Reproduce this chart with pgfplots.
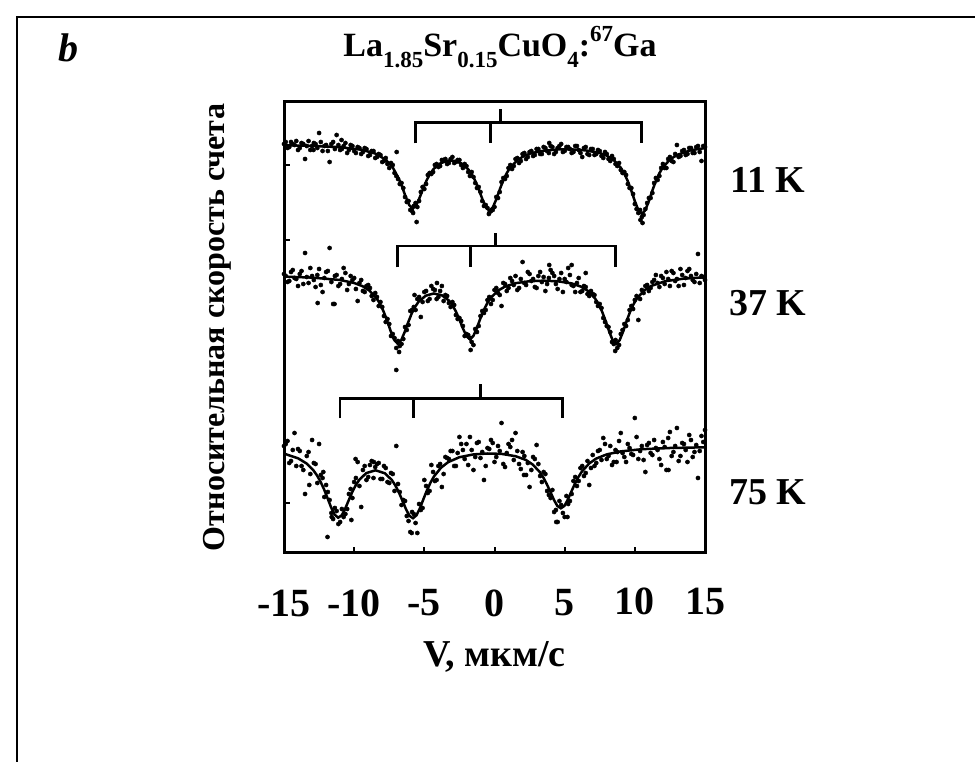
\documentclass[border=0pt]{standalone}
\usepackage{fontspec}
\setmainfont{Liberation Serif}
\usepackage{pgfplots}
\pgfplotsset{compat=1.18}
\begin{document}
\begin{tikzpicture}[x=1pt,y=1pt]
\path[use as bounding box] (0,0) rectangle (975,762);
\draw[line width=2pt] (17,0) -- (17,745) -- (975,745);
\begin{axis}[
  at={(284pt,209pt)}, anchor=south west,
  width=421pt, height=451pt, scale only axis,
  xmin=-15, xmax=15, ymin=209, ymax=660,
  axis line style={line width=3pt},
  xtick={-15,-10,-5,0,5,10,15},
  xticklabels={-15,-10,-5,0,5,\raisebox{3pt}{10},\raisebox{3pt}{15}},
  ytick={259,522,597}, yticklabels={},
  xtick pos=left, ytick pos=left,
  tick align=inside, major tick length=6pt,
  tick style={line width=2pt, black},
  xticklabel style={font=\bfseries\fontsize{40}{40}\selectfont, anchor=center, yshift=-50pt},
  xlabel={V, мкм/с},
  xlabel style={font=\bfseries\fontsize{38}{38}\selectfont, at={(axis description cs:0.5,0)}, anchor=center, yshift=-104pt},
  ylabel={Относительная скорость счета},
  ylabel style={font=\bfseries\fontsize{32}{32}\selectfont, at={(axis description cs:-0.159,0.5)}, anchor=center},
]
% ---------- 11 K ----------
\addplot[only marks, mark=*, mark size=2.1pt, black] coordinates {
(-15.00,618) (-14.75,614) (-14.50,620) (-14.25,617) (-14.00,612) (-13.75,619) (-13.50,603) (-13.25,621)
(-13.00,616) (-12.75,618) (-12.50,629) (-12.25,611) (-12.00,617) (-11.75,600) (-11.50,620) (-11.25,627)
(-11.00,612) (-10.75,616) (-10.50,609) (-10.25,617) (-10.00,611) (-9.75,615) (-9.50,608) (-9.25,614)
(-9.00,606) (-8.75,611) (-8.50,604) (-8.25,608) (-8.00,600) (-7.75,604) (-7.50,594) (-7.25,597)
(-7.00,586) (-6.97,610) (-6.75,578) (-6.50,574) (-6.25,560) (-6.00,552) (-5.75,556) (-5.50,555)
(-5.25,570) (-5.00,573) (-4.75,587) (-4.50,588) (-4.25,597) (-4.00,595) (-3.75,602) (-3.50,603)
(-3.25,599) (-3.00,605) (-2.75,600) (-2.50,602) (-2.25,594) (-2.00,596) (-1.75,586) (-1.50,585)
(-1.25,574) (-1.00,570) (-0.75,556) (-0.50,554) (-0.25,551) (0.00,555) (0.25,564) (0.50,580)
(0.75,583) (1.00,594) (1.25,593) (1.50,603) (1.75,599) (2.00,608) (2.25,603) (2.50,610)
(2.75,606) (3.00,613) (3.25,608) (3.50,615) (3.75,611) (4.00,616) (4.25,608) (4.50,614)
(4.75,618) (5.00,611) (5.25,615) (5.50,609) (5.75,616) (6.00,612) (6.25,605) (6.50,615)
(6.75,607) (7.00,613) (7.25,608) (7.50,611) (7.75,604) (8.00,608) (8.25,601) (8.50,603)
(8.75,596) (9.00,592) (9.25,590) (9.50,578) (9.75,574) (10.00,558) (10.25,549) (10.50,545)
(10.75,553) (11.00,564) (11.25,569) (11.50,584) (11.75,586) (12.00,598) (12.25,594) (12.50,605)
(12.75,600) (13.00,617) (13.25,606) (13.50,612) (13.75,608) (14.00,614) (14.25,609) (14.50,616)
(14.75,601) (15.00,615) (-5.55,540) (10.55,539) (-12.90,612) (-10.90,622) (3.90,619) (-0.40,548)
(-5.80,549) (10.40,542)
(-14.875,620) (-14.625,615) (-14.375,618) (-14.125,621) (-13.875,614) (-13.625,618) (-13.375,616) (-13.125,612)
(-12.875,619) (-12.625,614) (-12.375,620) (-12.125,616) (-11.875,611) (-11.625,618) (-11.375,613) (-11.125,617)
(-10.875,613) (-10.625,619) (-10.375,612) (-10.125,616) (-9.875,609) (-9.625,614) (-9.375,610) (-9.125,613)
(-8.875,607) (-8.625,611) (-8.375,605) (-8.125,607) (-7.875,601) (-7.625,598) (-7.375,599) (-7.125,589)
(-6.875,583) (-6.625,579) (-6.375,565) (-6.125,561) (-5.875,551) (-5.625,559) (-5.375,561) (-5.125,575)
(-4.875,578) (-4.625,589) (-4.375,590) (-4.125,598) (-3.875,596) (-3.625,602) (-3.375,598) (-3.125,603)
(-2.875,599) (-2.625,602) (-2.375,597) (-2.125,598) (-1.875,590) (-1.625,590) (-1.375,579) (-1.125,575)
(-0.875,561) (-0.625,557) (-0.375,549) (-0.125,552) (0.125,565) (0.375,570) (0.625,584) (0.875,586)
(1.125,597) (1.375,596) (1.625,604) (1.875,601) (2.125,609) (2.375,605) (2.625,611) (2.875,607)
(3.125,613) (3.375,608) (3.625,614) (3.875,609) (4.125,615) (4.375,610) (4.625,616) (4.875,610)
(5.125,615) (5.375,613) (5.625,610) (5.875,616) (6.125,609) (6.375,614) (6.625,608) (6.875,613)
(7.125,607) (7.375,612) (7.625,606) (7.875,610) (8.125,603) (8.375,606) (8.625,598) (8.875,599)
(9.125,589) (9.375,587) (9.625,574) (9.875,568) (10.125,553) (10.375,552) (10.625,547) (10.875,559)
(11.125,564) (11.375,579) (11.625,582) (11.875,594) (12.125,594) (12.375,603) (12.625,601) (12.875,608)
(13.125,605) (13.375,611) (13.625,607) (13.875,614) (14.125,609) (14.375,615) (14.625,610) (14.875,616)
};
\addplot[black, line width=2.5pt] coordinates {
(-15,616.8) (-13,616.1) (-11,614.8) (-9.5,612.3) (-8.5,608.5) (-7.75,602.3) (-7.25,594.5) (-6.83,583.6)
(-6.58,575.0) (-6.33,565.3) (-6.08,557.0) (-5.83,553.4) (-5.58,556.5) (-5.33,564.5) (-5.08,573.7) (-4.83,581.9)
(-4.58,588.4) (-4.33,593.2) (-3.83,598.9) (-3.33,601.2) (-3.1,601.5) (-2.86,601.1) (-2.36,598.6) (-1.86,592.5)
(-1.61,587.5) (-1.36,580.8) (-1.11,572.2) (-0.86,562.7) (-0.61,554.6) (-0.36,551.2) (-0.11,554.8) (0.14,563.2)
(0.39,573.1) (0.64,582.1) (0.89,589.3) (1.14,594.8) (1.64,602.0) (2.14,606.3) (2.64,608.9) (3.5,611.3)
(4.5,612.5) (5.5,612.6) (6.5,611.6) (7.5,609.0) (8.0,606.3) (8.5,601.9) (9.0,594.3) (9.25,588.4)
(9.5,580.8) (9.75,571.3) (10.0,560.9) (10.25,551.8) (10.5,548.1) (10.75,551.9) (11.0,561.0) (11.25,571.5)
(11.5,581.0) (11.75,588.8) (12.0,594.7) (12.5,602.4) (13.0,607.0) (14.0,611.8) (15.0,613.9)
};
\addplot[black, line width=2.7pt] coordinates {(-5.64,618.7) (-5.64,639.7) (10.49,639.7) (10.49,618.7)};
\addplot[black, line width=2.7pt] coordinates {(-0.31,639.7) (-0.31,618.7)};
\addplot[black, line width=2.7pt] coordinates {(0.42,639.7) (0.42,653)};
% ---------- 37 K ----------
\addplot[only marks, mark=*, mark size=2.1pt, black] coordinates {
(-15.00,488) (-14.75,480) (-14.50,490) (-14.25,484) (-14.00,476) (-13.75,491) (-13.50,509) (-13.25,479)
(-13.00,486) (-12.75,475) (-12.50,493) (-12.25,470) (-12.00,490) (-11.75,514) (-11.50,458) (-11.25,487)
(-11.00,478) (-10.75,494) (-10.50,472) (-10.25,486) (-10.00,484) (-9.75,461) (-9.50,482) (-9.25,470)
(-9.00,477) (-8.75,466) (-8.50,469) (-8.25,456) (-8.00,455) (-7.75,440) (-7.50,438) (-7.25,428)
(-7.00,414) (-6.75,416) (-6.50,423) (-6.25,432) (-6.00,451) (-5.75,455) (-5.50,463) (-5.25,445)
(-5.00,470) (-4.75,461) (-4.50,476) (-4.25,472) (-4.00,465) (-3.75,476) (-3.50,467) (-3.25,459)
(-3.00,460) (-2.75,447) (-2.50,444) (-2.25,436) (-2.00,428) (-1.75,424) (-1.50,417) (-1.25,430)
(-1.00,446) (-0.75,449) (-0.50,462) (-0.25,458) (0.00,472) (0.25,469) (0.50,456) (0.75,478)
(1.00,474) (1.25,481) (1.50,486) (1.75,474) (2.00,500) (2.25,477) (2.50,488) (2.75,483)
(3.00,474) (3.25,490) (3.50,485) (3.75,478) (4.00,492) (4.25,486) (4.50,473) (4.75,489)
(5.00,483) (5.25,494) (5.50,477) (5.75,470) (6.00,484) (6.25,471) (6.50,475) (6.75,466)
(7.00,468) (7.25,460) (7.50,458) (7.75,444) (8.00,436) (8.25,430) (8.50,418) (8.75,414)
(9.00,428) (9.25,438) (9.50,442) (9.75,456) (10.00,462) (10.25,442) (10.50,472) (10.75,476)
(11.00,471) (11.25,480) (11.50,487) (11.75,475) (12.00,484) (12.25,490) (12.50,476) (12.75,489)
(13.00,483) (13.25,493) (13.50,477) (13.75,491) (14.00,486) (14.25,480) (14.50,508) (14.75,486)
(15.00,482) (-7.00,392) (-1.70,412) (-6.80,410) (8.60,411) (-4.10,479) (-5.70,467) (3.90,497)
(5.50,497) (6.50,489) (-12.60,459) (-11.40,458)
(-14.875,486) (-14.625,481) (-14.375,492) (-14.125,483) (-13.875,488) (-13.625,478) (-13.375,485) (-13.125,494)
(-12.875,482) (-12.625,487) (-12.375,477) (-12.125,484) (-11.875,491) (-11.625,480) (-11.375,486) (-11.125,476)
(-10.875,483) (-10.625,489) (-10.375,478) (-10.125,482) (-9.875,473) (-9.625,479) (-9.375,471) (-9.125,476)
(-8.875,474) (-8.625,462) (-8.375,465) (-8.125,460) (-7.875,446) (-7.625,443) (-7.375,426) (-7.125,424)
(-6.875,421) (-6.625,418) (-6.375,435) (-6.125,437) (-5.875,452) (-5.625,452) (-5.375,465) (-5.125,460)
(-4.875,471) (-4.625,463) (-4.375,473) (-4.125,463) (-3.875,471) (-3.625,461) (-3.375,466) (-3.125,455)
(-2.875,457) (-2.625,443) (-2.375,441) (-2.125,426) (-1.875,427) (-1.625,420) (-1.375,433) (-1.125,436)
(-0.875,451) (-0.625,452) (-0.375,465) (-0.125,462) (0.125,474) (0.375,467) (0.625,479) (0.875,471)
(1.125,484) (1.375,477) (1.625,472) (1.875,483) (2.125,479) (2.375,490) (2.625,481) (2.875,475)
(3.125,486) (3.375,480) (3.625,471) (3.875,484) (4.125,489) (4.375,478) (4.625,483) (4.875,470)
(5.125,480) (5.375,487) (5.625,476) (5.875,479) (6.125,470) (6.375,476) (6.625,468) (6.875,471)
(7.125,467) (7.375,456) (7.625,454) (7.875,440) (8.125,435) (8.375,420) (8.625,422) (8.875,417)
(9.125,432) (9.375,436) (9.625,452) (9.875,453) (10.125,466) (10.375,463) (10.625,469) (10.875,477)
(11.125,474) (11.375,482) (11.625,479) (11.875,486) (12.125,478) (12.375,483) (12.625,491) (12.875,481)
(13.125,476) (13.375,487) (13.625,484) (13.875,493) (14.125,482) (14.375,488) (14.625,479) (14.875,485)
};
\addplot[black, line width=2.5pt] coordinates {
(-15,485.4) (-13,484.4) (-11,482.0) (-10,479.0) (-9.4,475.8) (-8.9,471.2) (-8.4,463.7) (-8.15,457.9)
(-7.9,450.4) (-7.65,441.2) (-7.4,430.9) (-7.15,422.1) (-6.9,418.3) (-6.65,421.7) (-6.4,430.0) (-6.15,439.7)
(-5.9,448.5) (-5.65,455.3) (-5.4,460.5) (-4.9,466.3) (-4.33,468.5) (-3.75,466.7) (-3.25,461.5) (-3.0,456.8)
(-2.75,450.5) (-2.5,442.5) (-2.25,433.6) (-2.0,425.9) (-1.75,422.7) (-1.5,426.2) (-1.25,434.3) (-1.0,443.8)
(-0.75,452.3) (-0.5,459.2) (-0.25,464.5) (0.25,471.4) (0.75,475.4) (1.5,478.8) (2.5,480.8) (3.5,481.3)
(4.5,480.7) (5.5,478.6) (6.17,475.3) (6.67,471.0) (7.17,463.5) (7.42,457.7) (7.67,450.3) (7.92,440.9)
(8.17,430.6) (8.42,421.7) (8.67,418.0) (8.92,421.8) (9.17,430.7) (9.42,441.1) (9.67,450.6) (9.92,458.1)
(10.17,463.9) (10.67,471.6) (11.17,476.1) (12.17,480.8) (13.5,483.4) (15,484.7)
};
\addplot[black, line width=2.7pt] coordinates {(-6.92,494.7) (-6.92,516) (8.64,516) (8.64,494.7)};
\addplot[black, line width=2.7pt] coordinates {(-1.71,516) (-1.71,494.7)};
\addplot[black, line width=2.7pt] coordinates {(0.07,516) (0.07,528.7)};
% ---------- 75 K ----------
\addplot[only marks, mark=*, mark size=2.1pt, black] coordinates {
(-15.00,316) (-14.75,321) (-14.50,301) (-14.25,329) (-14.00,313) (-13.75,296) (-13.50,268) (-13.25,310)
(-13.00,322) (-12.75,298) (-12.50,318) (-12.25,284) (-12.00,277) (-11.75,262) (-11.50,243) (-11.25,251)
(-11.00,240) (-10.75,245) (-10.50,253) (-10.25,273) (-10.00,280) (-9.75,300) (-9.50,255) (-9.25,296)
(-9.00,285) (-8.75,301) (-8.50,295) (-8.25,299) (-8.00,283) (-7.75,294) (-7.50,279) (-7.25,288)
(-7.00,316) (-6.75,270) (-6.50,262) (-6.25,246) (-6.00,230) (-5.75,248) (-5.50,229) (-5.25,252)
(-5.00,282) (-4.75,269) (-4.50,297) (-4.25,281) (-4.00,296) (-3.75,275) (-3.50,305) (-3.25,303)
(-3.00,311) (-2.75,296) (-2.50,325) (-2.25,312) (-2.00,318) (-1.75,325) (-1.50,292) (-1.25,319)
(-1.00,304) (-0.75,282) (-0.50,314) (-0.25,322) (0.00,300) (0.25,316) (0.50,339) (0.75,295)
(1.00,318) (1.25,322) (1.50,329) (1.75,298) (2.00,310) (2.25,287) (2.50,275) (2.75,305)
(3.00,317) (3.25,286) (3.50,290) (3.75,271) (4.00,264) (4.25,250) (4.50,240) (4.75,257)
(5.00,245) (5.25,258) (5.50,268) (5.75,285) (6.00,281) (6.25,296) (6.50,289) (6.75,277)
(7.00,307) (7.25,299) (7.50,312) (7.75,324) (8.00,303) (8.25,316) (8.50,300) (8.75,310)
(9.00,329) (9.25,305) (9.50,318) (9.75,308) (10.00,344) (10.25,303) (10.50,316) (10.75,290)
(11.00,319) (11.25,307) (11.50,314) (11.75,303) (12.00,320) (12.25,292) (12.50,330) (12.75,310)
(13.00,334) (13.25,306) (13.50,318) (13.75,300) (14.00,322) (14.25,310) (14.50,284) (14.75,326)
(15.00,332) (-11.90,225) (-11.60,245) (-10.20,242) (-5.90,229) (4.40,240) (5.20,245) (-13.20,277)
(-12.20,290) (8.70,300) (-9.90,303) (-8.60,300) (2.10,287) (12.40,292)
(-14.875,318) (-14.625,299) (-14.375,312) (-14.125,296) (-13.875,311) (-13.625,292) (-13.375,306) (-13.125,288)
(-12.875,299) (-12.625,279) (-12.375,287) (-12.125,265) (-11.875,270) (-11.625,249) (-11.375,254) (-11.125,238)
(-10.875,253) (-10.625,248) (-10.375,268) (-10.125,264) (-9.875,284) (-9.625,276) (-9.375,292) (-9.125,282)
(-8.875,297) (-8.625,284) (-8.375,298) (-8.125,283) (-7.875,296) (-7.625,280) (-7.375,289) (-7.125,271)
(-6.875,278) (-6.625,257) (-6.375,261) (-6.125,241) (-5.875,250) (-5.625,239) (-5.375,258) (-5.125,254)
(-4.875,276) (-4.625,271) (-4.375,290) (-4.125,282) (-3.875,298) (-3.625,288) (-3.375,304) (-3.125,311)
(-2.875,296) (-2.625,309) (-2.375,318) (-2.125,303) (-1.875,297) (-1.625,312) (-1.375,305) (-1.125,320)
(-0.875,310) (-0.625,296) (-0.375,313) (-0.125,319) (0.125,305) (0.375,311) (0.625,298) (0.875,309)
(1.125,315) (1.375,302) (1.625,311) (1.875,293) (2.125,306) (2.375,299) (2.625,292) (2.875,303)
(3.125,298) (3.375,280) (3.625,288) (3.875,267) (4.125,272) (4.375,252) (4.625,261) (4.875,249)
(5.125,266) (5.375,261) (5.625,281) (5.875,276) (6.125,294) (6.375,286) (6.625,301) (6.875,294)
(7.125,296) (7.375,311) (7.625,302) (7.875,318) (8.125,306) (8.375,297) (8.625,312) (8.875,321)
(9.125,309) (9.375,300) (9.625,314) (9.875,307) (10.125,325) (10.375,311) (10.625,302) (10.875,317)
(11.125,309) (11.375,322) (11.625,312) (11.875,297) (12.125,315) (12.375,324) (12.625,306) (12.875,316)
(13.125,301) (13.375,319) (13.625,312) (13.875,327) (14.125,305) (14.375,317) (14.625,311) (14.875,320)
};
\addplot[black, line width=2.5pt] coordinates {
(-15,308.4) (-14,303.7) (-13.4,298.6) (-12.9,291.6) (-12.64,286.4) (-12.39,280.1) (-12.14,272.5) (-11.89,263.6)
(-11.64,254.5) (-11.39,247.3) (-11.14,244.3) (-10.89,246.6) (-10.64,253.3) (-10.39,261.7) (-10.14,269.8) (-9.89,276.7)
(-9.64,282.1) (-9.14,288.9) (-8.48,291.7) (-7.81,288.7) (-7.31,281.9) (-7.06,276.4) (-6.81,269.5) (-6.56,261.4)
(-6.31,252.9) (-6.06,246.2) (-5.81,243.8) (-5.56,246.7) (-5.31,253.9) (-5.06,263.0) (-4.81,271.8) (-4.56,279.4)
(-4.31,285.6) (-3.81,294.3) (-3.31,299.8) (-2.5,304.8) (-1.5,307.6) (-0.5,308.5) (0.5,308.1) (1.5,305.8)
(2.23,302.1) (2.73,297.4) (3.23,289.9) (3.48,284.5) (3.73,277.8) (3.98,270.2) (4.23,262.3) (4.48,256.0)
(4.73,253.7) (4.98,256.1) (5.23,262.5) (5.48,270.5) (5.73,278.3) (5.98,285.0) (6.23,290.5) (6.73,298.3)
(7.23,303.3) (8.0,307.6) (9.0,310.6) (10.5,312.8) (12.5,314.0) (15,314.7)
};
\addplot[black, line width=2.7pt] coordinates {(-11.02,343.7) (-11.02,363.7) (4.85,363.7) (4.85,343.7)};
\addplot[black, line width=2.7pt] coordinates {(-5.76,363.7) (-5.76,343.7)};
\addplot[black, line width=2.7pt] coordinates {(-1.02,363.7) (-1.02,378)};
\end{axis}
\node[font=\bfseries\fontsize{38}{38}\selectfont] at (768,582) {11 K};
\node[font=\bfseries\fontsize{38}{38}\selectfont] at (768,459) {37 K};
\node[font=\bfseries\fontsize{38}{38}\selectfont] at (768,270) {75 K};
\node[font=\bfseries\itshape\fontsize{40}{40}\selectfont] at (68,714) {b};
\node[font=\bfseries\fontsize{34}{34}\selectfont] at (500,715) {La\raisebox{-0.3em}{\fontsize{23}{23}\selectfont 1.85}Sr\raisebox{-0.3em}{\fontsize{23}{23}\selectfont 0.15}CuO\raisebox{-0.3em}{\fontsize{23}{23}\selectfont 4}:\raisebox{0.45em}{\fontsize{23}{23}\selectfont 67}Ga};
\end{tikzpicture}
\end{document}
